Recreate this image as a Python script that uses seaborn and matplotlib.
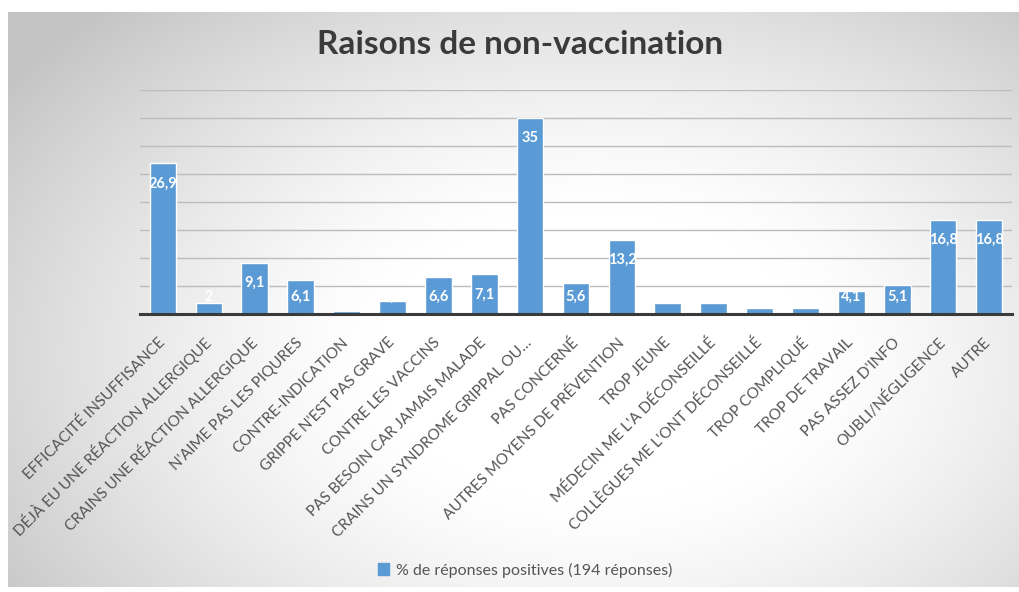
import numpy as np
import pandas as pd
import matplotlib
matplotlib.use("Agg")
import matplotlib.pyplot as plt
from matplotlib.patches import Patch
import seaborn as sns

# données
raisons = [
    "EFFICACITÉ INSUFFISANCE",
    "DÉJÀ EU UNE RÉACTION ALLERGIQUE",
    "CRAINS UNE RÉACTION ALLERGIQUE",
    "N'AIME PAS LES PIQURES",
    "CONTRE-INDICATION",
    "GRIPPE N'EST PAS GRAVE",
    "CONTRE LES VACCINS",
    "PAS BESOIN CAR JAMAIS MALADE",
    "CRAINS UN SYNDROME GRIPPAL OU…",
    "PAS CONCERNÉ",
    "AUTRES MOYENS DE PRÉVENTION",
    "TROP JEUNE",
    "MÉDECIN ME L'A DÉCONSEILLÉ",
    "COLLÈGUES ME L'ONT DÉCONSEILLÉ",
    "TROP COMPLIQUÉ",
    "TROP DE TRAVAIL",
    "PAS ASSEZ D'INFO",
    "OUBLI/NÉGLIGENCE",
    "AUTRE",
]
pourcentages = [26.9, 2, 9.1, 6.1, 0.5, 2.3, 6.6, 7.1, 35, 5.6, 13.2,
                2, 2, 1, 1, 4.1, 5.1, 16.8, 16.8]
titre = "Raisons de non-vaccination"
legende = "% de réponses positives (194 réponses)"

sns.set_style("white")
plt.rcParams['font.family'] = ['Lato', 'DejaVu Sans']

W, H = 1019, 592
fig = plt.figure(figsize=(W / 100, H / 100), dpi=100)
fig.patch.set_facecolor("white")

# fond en dégradé radial (blanc au centre, gris sur les bords)
bg = fig.add_axes([8 / W, 5 / H, 1 - 8 / W, 1 - 17 / H], zorder=-5)
yy, xx = np.mgrid[0:1:300j, 0:1:500j]
r = np.sqrt(((xx - 0.58) / 0.68) ** 2 + ((yy - 0.40) / 0.80) ** 2)
t = np.clip((r - 0.32) / 0.72, 0, 1)
g = 1 - 0.23 * t ** 1.3
img = np.dstack([g, g, g])
bg.imshow(img, aspect="auto", extent=[0, 1, 0, 1], origin="lower")
bg.set_axis_off()

df = pd.DataFrame({"raison": raisons, "pct": pourcentages})

ax = fig.add_axes([140 / W, (H - 314) / H, 872 / W, 224 / H])
ax.patch.set_alpha(0)
sns.barplot(data=df, x="raison", y="pct", color="#5B9BD5", saturation=1,
            width=0.58, ax=ax, zorder=3)

ax.set_ylim(0, 40)
ax.set_xlim(-0.5, len(raisons) - 0.5)
ax.set_yticks(np.arange(5, 45, 5))
ax.yaxis.grid(True, color="#bcbcbc", linewidth=1)
ax.set_yticklabels([])
ax.tick_params(axis="y", length=0)
ax.tick_params(axis="x", length=0, pad=19)
ax.set_xlabel("")
ax.set_ylabel("")
for s in ["top", "right", "left"]:
    ax.spines[s].set_visible(False)
ax.spines["bottom"].set_color("#3a3a3a")
ax.spines["bottom"].set_linewidth(2.2)
ax.spines["bottom"].set_zorder(4)

ax.set_xticks(range(len(raisons)))
ax.set_xticklabels(raisons, rotation=45, ha="right", va="center",
                   rotation_mode="anchor", fontsize=11, color="#555555")

# étiquettes de valeurs
for i, v in enumerate(pourcentages):
    txt = f"{v:g}".replace(".", ",")
    ax.text(i, max(v - 3.6, 3.1), txt, ha="center", va="center",
            color="white", fontsize=10.5, fontweight="bold", zorder=5)

fig.text(520 / W, 1 - 45 / H, titre, ha="center", va="center",
         fontsize=24, fontweight="bold", color="#3a3a3a")

fig.legend(handles=[Patch(color="#5B9BD5", label=legende)],
           loc="center", bbox_to_anchor=(525 / W, 1 - 570 / H),
           frameon=False, handlelength=0.7, handleheight=0.7,
           handletextpad=0.4, labelcolor="#555555", fontsize=11.5)

fig.savefig("out.png", dpi=100)
